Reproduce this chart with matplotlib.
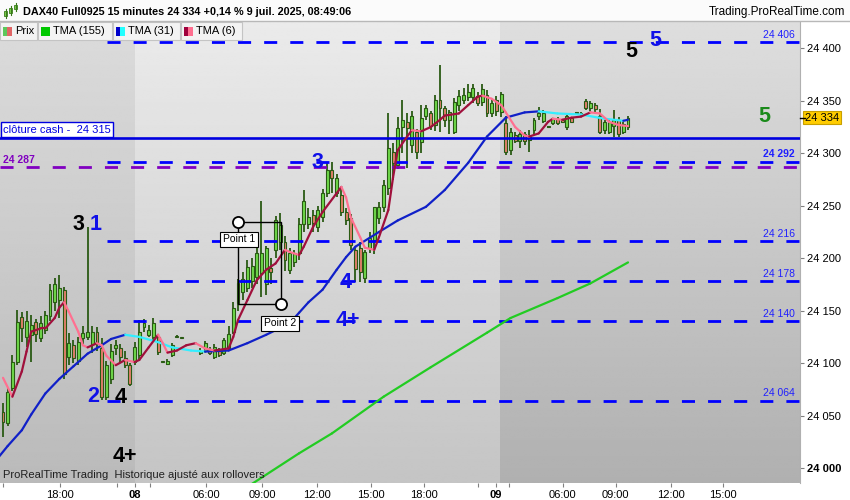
import numpy as np
import matplotlib.pyplot as plt
import matplotlib.transforms as mtransforms
from matplotlib.collections import LineCollection
from matplotlib.patches import Rectangle

plt.rcParams['font.family'] = ['Liberation Sans', 'DejaVu Sans']
plt.rcParams['lines.scale_dashes'] = False

nan = np.nan

# DAX40 Full0925, 15 minute bars, one entry per bar slot (nan = no trade)
opens = [24053, 24043, 24076, 24101, 24144, 24125, 24127, 24139, 24124, 24132,
         24145, 24158, 24160, 24170, 24106, 24117, 24102, 24124, 24125, 24118,
         24130, 24114, 24068, 24085, 24114, 24114, 24105, 24098, 24101, 24108,
         24134, 24127, 24125, 24125, 24101, 24099, 24108, 24125, 24124, nan,
         nan, nan, 24110, 24112, 24113, 24106, 24112, 24110, 24114, 24130,
         24157, 24168, 24172, 24178, 24182, 24186, 24175, 24191, 24208, 24215,
         24215, 24189, 24196, 24205, 24233, 24233, 24241, 24230, 24239, 24262,
         24284, 24262, 24260, 24244, 24238, 24208, 24210, 24181, 24210, 24217,
         24238, 24249, 24267, 24301, 24289, 24325, 24330, 24308, 24320, 24311,
         24336, 24338, 24327, 24351, 24343, 24332, 24320, 24346, 24351, 24354,
         24354, 24355, 24349, 24356, 24338, 24351, 24339, 24329, 24303, 24317,
         24312, 24318, 24313, 24322, 24336, 24331, 24325, 24329, 24333, 24332,
         24325, 24334, 24338, 24337, 24350, 24343, 24346, 24336, 24322, 24320,
         24326, 24332, 24320, 24325]
highs = [24062, 24076, 24108, 24151, 24149, 24150, 24146, 24142, 24145, 24150,
         24175, 24181, 24184, 24173, 24129, 24122, 24125, 24135, 24230, 24135,
         24134, 24124, 24102, 24118, 24122, 24118, 24112, 24100, 24120, 24141,
         24142, 24136, 24143, 24128, 24102, 24104, 24119, 24127, 24125, nan,
         nan, nan, 24114, 24121, 24115, 24118, 24114, 24124, 24135, 24158,
         24180, 24187, 24198, 24200, 24210, 24255, 24212, 24200, 24240, 24243,
         24221, 24210, 24208, 24238, 24265, 24248, 24246, 24250, 24266, 24291,
         24292, 24280, 24268, 24248, 24242, 24210, 24215, 24208, 24225, 24249,
         24254, 24275, 24338, 24310, 24335, 24351, 24338, 24340, 24323, 24346,
         24346, 24340, 24356, 24384, 24345, 24341, 24353, 24360, 24362, 24366,
         24366, 24358, 24366, 24360, 24352, 24355, 24358, 24336, 24324, 24320,
         24322, 24320, 24322, 24334, 24344, 24341, 24326, 24334, 24335, 24333,
         24338, 24335, 24339, 24339, 24352, 24350, 24348, 24342, 24332, 24332,
         24341, 24335, 24330, 24336]
lows = [24030, 24040, 24073, 24098, 24120, 24115, 24101, 24120, 24120, 24128,
        24140, 24150, 24143, 24085, 24098, 24100, 24098, 24118, 24122, 24110,
        24112, 24065, 24065, 24080, 24108, 24100, 24095, 24078, 24098, 24103,
        24130, 24125, 24122, 24108, 24100, 24098, 24106, 24124, 24123, nan,
        nan, nan, 24108, 24110, 24108, 24104, 24106, 24108, 24112, 24128,
        24150, 24160, 24168, 24172, 24175, 24163, 24165, 24175, 24200, 24208,
        24188, 24185, 24192, 24198, 24225, 24228, 24225, 24225, 24235, 24258,
        24262, 24258, 24240, 24232, 24208, 24177, 24177, 24176, 24205, 24204,
        24233, 24244, 24260, 24275, 24285, 24300, 24286, 24300, 24295, 24300,
        24332, 24322, 24321, 24320, 24325, 24318, 24318, 24340, 24347, 24350,
        24348, 24345, 24345, 24335, 24335, 24336, 24335, 24298, 24298, 24310,
        24305, 24308, 24301, 24318, 24332, 24329, 24324, 24327, 24327, 24329,
        24322, 24329, 24337, 24336, 24341, 24340, 24338, 24318, 24318, 24318,
        24316, 24316, 24318, 24322]
closes = [24044, 24072, 24101, 24139, 24133, 24140, 24136, 24128, 24138, 24146,
          24170, 24175, 24172, 24090, 24119, 24105, 24120, 24129, 24130, 24130,
          24118, 24068, 24098, 24112, 24117, 24106, 24098, 24080, 24115, 24130,
          24138, 24132, 24138, 24111, 24101, 24102, 24117, 24126, 24124, nan,
          nan, nan, 24112, 24119, 24110, 24115, 24108, 24122, 24128, 24153,
          24176, 24180, 24192, 24193, 24205, 24205, 24210, 24187, 24236, 24232,
          24198, 24205, 24205, 24233, 24255, 24239, 24234, 24246, 24262, 24284,
          24276, 24276, 24244, 24236, 24213, 24190, 24187, 24206, 24219, 24249,
          24249, 24270, 24305, 24291, 24324, 24332, 24324, 24336, 24301, 24334,
          24343, 24326, 24351, 24343, 24332, 24339, 24349, 24355, 24356, 24358,
          24362, 24348, 24361, 24338, 24348, 24340, 24357, 24301, 24320, 24312,
          24318, 24312, 24316, 24332, 24338, 24338, 24325, 24333, 24329, 24330,
          24336, 24330, 24338, 24338, 24343, 24348, 24342, 24320, 24330, 24330,
          24332, 24318, 24328, 24334]

# indicator curves (bar slot, value)
tma6_bars = [0, 2, 4, 5, 6, 8, 9, 11, 12, 13, 14, 16, 17, 18, 20, 21, 22, 24, 26, 28,
             29, 31, 33, 34, 35, 37, 39, 41, 43, 45, 48, 49, 50, 52, 54, 56, 58, 60, 61, 63,
             64, 66, 68, 71, 72, 73, 74, 76, 77, 79, 80, 82, 83, 84, 86, 87, 89, 91, 93, 94,
             97, 99, 101, 102, 104, 106, 107, 109, 111, 112, 114, 116, 117, 119, 121, 123, 125, 127, 129, 131,
             133]
tma6_vals = [24086, 24068, 24092, 24111, 24130, 24133, 24133, 24143, 24153, 24158,
             24149, 24130, 24117, 24115, 24119, 24117, 24107, 24098, 24103, 24101,
             24103, 24115, 24127, 24119, 24110, 24112, 24117, 24119, 24114, 24112,
             24114, 24125, 24141, 24160, 24179, 24189, 24195, 24208, 24206, 24203,
             24211, 24230, 24244, 24262, 24268, 24258, 24239, 24220, 24210, 24208,
             24220, 24246, 24277, 24303, 24316, 24322, 24321, 24325, 24332, 24336,
             24338, 24346, 24354, 24355, 24352, 24346, 24339, 24325, 24317, 24316,
             24319, 24330, 24333, 24332, 24334, 24335, 24339, 24338, 24330, 24327,
             24326]
tma31_bars = [-1, 1, 4, 6, 9, 12, 15, 18, 21, 23, 26, 29, 33, 36, 40, 43, 48, 52, 56, 61,
              63, 65, 68, 71, 73, 75, 80, 84, 90, 94, 99, 103, 107, 111, 114, 118, 123, 128, 132, 133]
tma31_vals = [24010, 24021, 24036, 24051, 24071, 24085, 24097, 24109, 24117, 24123,
              24127, 24125, 24120, 24115, 24112, 24111, 24112, 24119, 24127, 24138,
              24148, 24158, 24170, 24189, 24201, 24211, 24225, 24236, 24249, 24265,
              24291, 24316, 24334, 24339, 24340, 24338, 24337, 24333, 24331, 24332]
tma155_bars = [52, 63, 70, 81, 91, 103, 108, 118, 125, 133]
tma155_vals = [23982, 24014, 24033, 24068, 24096, 24129, 24143, 24162, 24176, 24196]

levels = [24406, 24292, 24216, 24178, 24140, 24064]
level_labels = ['24 406', '24 292', '24 216', '24 178', '24 140', '24 064']
cash_close = 24315
purple_level = 24287
last_price = 24334

tick_bars = [0, 12.1, 24.3, 28.1, 31.3, 43.2, 55.1, 66.8, 78.3, 89.6, 101.1, 104.9,
             107.7, 119.1, 130.4, 142.1, 153.2]
tick_labels = ['', '18:00', '', '08', '', '06:00', '09:00', '12:00', '15:00', '18:00', '',
               '09', '', '06:00', '09:00', '12:00', '15:00']
session_starts = [28.1, 105.7]
price_ticks = [24000, 24050, 24100, 24150, 24200, 24250, 24300, 24350, 24400]

# wave counts: text, bar slot, price, colour
wave_labels = [('3', 16.0, 24232, 'black'), ('1', 19.8, 24232, '#1010e8'),
               ('2', 19.1, 24068, '#1010e8'), ('4', 25.1, 24067, 'black'),
               ('4+', 26.0, 24011, 'black'), ('3', 67.0, 24291, '#1010e8'),
               ('4', 73.0, 24177, '#1010e8'), ('4+', 73.4, 24141, '#1010e8'),
               ('5', 133.8, 24397, 'black'), ('5', 138.9, 24408, '#1010e8'),
               ('5', 161.9, 24335, '#1a8a1a')]
point1 = (50.0, 24235)
point2 = (59.1, 24156)

BLUE = '#0000ff'
WICK = '#2a5a14'
BULL = '#6fd94a'
BEAR = '#e3806a'

fig = plt.figure(figsize=(8.5, 5), dpi=100)
px = mtransforms.Affine2D().scale(1 / 850, -1 / 500).translate(0, 1) + fig.transFigure

ax = fig.add_axes([0, 17 / 500, 800 / 850, 461 / 500])
xmin, xmax = -0.64, 169.6
ymin, ymax = 23985.7, 24425.2


def shade(x0, x1, top, bottom):
    grad = np.linspace(top, bottom, 200).reshape(-1, 1)
    ax.imshow(grad, extent=[x0, x1, ymin, ymax], aspect='auto', cmap='gray',
              vmin=0, vmax=1, zorder=0, interpolation='bilinear')


shade(xmin, session_starts[0], 0.86, 0.73)
shade(session_starts[0], session_starts[1], 0.92, 0.77)
shade(session_starts[1], xmax, 0.87, 0.69)

# horizontal levels
for lv in levels:
    ax.plot([22.1, xmax], [lv, lv], color=BLUE, lw=2, dashes=(9.4, 9.4), zorder=4)
ax.plot([xmin, xmax], [purple_level, purple_level], color='#8000c0', lw=2,
        dashes=(9.4, 9.4), zorder=4)
ax.axhline(cash_close, color='#0000e0', lw=1.9, zorder=4)

# candles
o = np.array(opens, float)
h = np.array(highs, float)
l = np.array(lows, float)
c = np.array(closes, float)
x = np.arange(len(o))
ok = ~np.isnan(o)
up = c >= o
ax.vlines(x[ok], l[ok], h[ok], color=WICK, lw=1.3, zorder=2)
body_low = np.minimum(o, c)
body_h = np.maximum(np.abs(c - o), 1.3)
ax.bar(x[ok], body_h[ok], bottom=body_low[ok], width=0.62,
       color=np.where(up, BULL, BEAR)[ok], edgecolor=WICK, linewidth=0.8, zorder=3)


def draw_tma(bars, vals, up_col, down_col, lw):
    pts = np.column_stack([bars, vals]).astype(float)
    segs = np.stack([pts[:-1], pts[1:]], axis=1)
    cols = [up_col if b[1] >= a[1] else down_col for a, b in zip(pts[:-1], pts[1:])]
    ax.add_collection(LineCollection(segs, colors=cols, linewidths=lw,
                                     capstyle='round', joinstyle='round', zorder=5))


draw_tma(tma155_bars, tma155_vals, '#22cc22', '#22cc22', 1.6)
draw_tma(tma31_bars, tma31_vals, '#1020c8', '#33eeff', 1.6)
draw_tma(tma6_bars, tma6_vals, '#a0103c', '#ff7090', 1.6)

# point tool
ax.add_patch(Rectangle(point1, point2[0] - point1[0], point2[1] - point1[1],
                       fill=False, ec='black', lw=1, zorder=6))
for pt in (point1, point2):
    ax.plot(*pt, 'o', ms=8, mfc='white', mec='black', mew=1.3, zorder=7)
ax.text(point1[0] + 0.2, point1[1] - 17, 'Point 1', ha='center', va='center', fontsize=7.5,
        zorder=8, bbox=dict(boxstyle='square,pad=0.25', fc='white', ec='black', lw=0.8))
ax.text(point2[0] - 0.2, point2[1] - 18, 'Point 2', ha='center', va='center', fontsize=7.5,
        zorder=8, bbox=dict(boxstyle='square,pad=0.25', fc='white', ec='black', lw=0.8))

# wave counts
for txt, bx, by, col in wave_labels:
    ax.text(bx, by, txt, color=col, fontsize=15.5, fontweight='bold',
            ha='center', va='center', zorder=9)

# level labels
for lv, lab in zip(levels, level_labels):
    ax.text(168.5, lv + 2.5, lab, color='#2020ff', fontsize=7.5, ha='right', va='bottom',
            fontweight='bold' if lv == 24292 else 'normal', zorder=6)

bl = mtransforms.blended_transform_factory(ax.transAxes, ax.transData)
ax.text(0.004, 24322.7, 'clôture cash -  24 315', transform=bl, color='#0000e0', fontsize=8,
        ha='left', va='center', zorder=8,
        bbox=dict(boxstyle='square,pad=0.2', fc='white', ec='#0000e0', lw=1))
ax.text(0.004, 24294, '24 287', transform=bl, color='#8000c0', fontsize=7.5,
        fontweight='bold', ha='left', va='center', zorder=8)
ax.text(0.004, 0.006, 'ProRealTime Trading  Historique ajusté aux rollovers',
        transform=ax.transAxes, fontsize=8, color='#202020', ha='left', va='bottom', zorder=8)

# axes
ax.set_xlim(xmin, xmax)
ax.set_ylim(ymin, ymax)
for side in ('left', 'top', 'bottom'):
    ax.spines[side].set_visible(False)
ax.spines['right'].set_color('#b0b0b0')
ax.yaxis.tick_right()
ax.set_yticks(price_ticks)
ax.set_yticklabels([f'{v:,}'.replace(',', ' ') for v in price_ticks])
ax.tick_params(axis='y', length=3, width=0.8, color='#808080', labelsize=8, pad=2)
for t, v in zip(ax.get_yticklabels(), price_ticks):
    if v == 24000:
        t.set_fontweight('bold')
ax.set_xticks(tick_bars)
ax.set_xticklabels(tick_labels)
ax.tick_params(axis='x', length=3, width=0.8, color='#808080', labelsize=8, pad=2)
for t in ax.get_xticklabels():
    if t.get_text() in ('08', '09'):
        t.set_fontweight('bold')

ax.text(1.006, last_price, '24 334', transform=bl, fontsize=8, ha='left', va='center',
        zorder=10, clip_on=False,
        bbox=dict(boxstyle='square,pad=0.15', fc='#ffcc00', ec='#c8a000', lw=0.8))
ax.plot([1.0, 1.006], [last_price, last_price], transform=bl, color='black', lw=1,
        clip_on=False, zorder=10)

# header strip
fig.add_artist(Rectangle((0, 0), 850, 21, transform=px, fc='#fbfbfb', ec='none'))
fig.add_artist(plt.Line2D([0, 850], [21, 21], transform=px, color='#b8b8b8', lw=1))
for cx, y0, y1, b0, b1 in [(6, 9, 18, 11, 16), (11, 6, 15, 8, 13), (16, 3, 11, 5, 9)]:
    fig.add_artist(plt.Line2D([cx, cx], [y0, y1], transform=px, color='#3a7a1a', lw=0.8))
    fig.add_artist(Rectangle((cx - 1.5, b0), 3, b1 - b0, transform=px, fc='#7ad04a',
                             ec='#3a7a1a', lw=0.6))
fig.text(23 / 850, 1 - 12 / 500, 'DAX40 Full0925 15 minutes 24 334 +0,14 % 9 juil. 2025, 08:49:06',
         fontsize=7.8, fontweight='bold', ha='left', va='center')
fig.text(845 / 850, 1 - 12 / 500, 'Trading.ProRealTime.com', fontsize=8.5,
         ha='right', va='center')

# indicator buttons
buttons = [(0, 37, 'Prix', '#5cc85c', '#e06666'),
           (38, 112, 'TMA (155)', '#00c800', '#00c800'),
           (113, 180, 'TMA (31)', '#0000cc', '#22ffff'),
           (181, 242, 'TMA (6)', '#a0003c', '#ff6f90')]
for x0, x1, lab, c1, c2 in buttons:
    fig.add_artist(Rectangle((x0, 22), x1 - x0, 18, transform=px, fc='#f3f3f3',
                             ec='#c4c4c4', lw=0.8))
    fig.add_artist(Rectangle((x0 + 3, 27), 4.5, 9, transform=px, fc=c1, ec='none'))
    fig.add_artist(Rectangle((x0 + 7.5, 27), 4.5, 9, transform=px, fc=c2, ec='none'))
    fig.text((x0 + 15) / 850, 1 - 31.5 / 500, lab, fontsize=8, ha='left', va='center')

fig.savefig('out.png', dpi=100)
